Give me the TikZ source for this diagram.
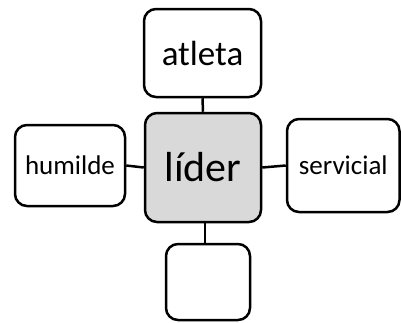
\documentclass[tikz,border=0pt]{standalone}
\usepackage{fontspec}
\setmainfont{Carlito}
\begin{document}
\begin{tikzpicture}[x=1pt,y=-1pt,
  box/.style={draw=black, line width=2.5pt, rounded corners=12pt, fill=white,
    inner sep=0pt, align=center, text=black},
  link/.style={draw=black, line width=2.5pt}]
\useasboundingbox (0,0) rectangle (401,322);
\node[box, fill={rgb,255:red,217;green,217;blue,217}, minimum width=116pt, minimum height=109pt,
  font=\fontsize{42}{48}\selectfont] (lider) at (203,167.5) {líder};
\node[box, minimum width=117pt, minimum height=88pt,
  font=\fontsize{35}{40}\selectfont] (atleta) at (202.5,53) {atleta};
\node[box, minimum width=110pt, minimum height=81pt,
  font=\fontsize{27}{32}\selectfont] (humilde) at (70,165.5) {humilde};
\node[box, minimum width=112.5pt, minimum height=93pt,
  font=\fontsize{27}{32}\selectfont] (servicial) at (343.25,165.5) {servicial};
\node[box, minimum width=84pt, minimum height=76pt] (vacio) at (208,282) {};
\draw[link] (atleta.south) -- (lider.north);
\draw[link] ([xshift=2pt]lider.south) -- ([xshift=2pt]lider.south |- vacio.north);
\draw[link] (humilde.east) -- (lider.west);
\draw[link] (lider.east) -- (servicial.west);
\end{tikzpicture}
\end{document}
